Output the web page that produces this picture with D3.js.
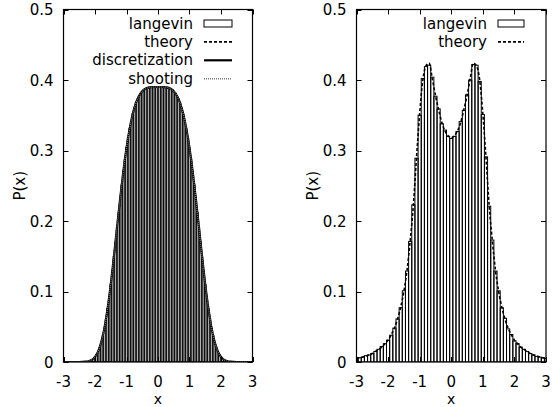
<!DOCTYPE html>
<html><head><meta charset="utf-8">
<script src="https://cdn.jsdelivr.net/npm/d3@7"></script>
<style>body{margin:0;background:#fff}svg{display:block}text{font-family:"DejaVu Sans",sans-serif;font-size:15px;fill:#000}</style>
</head><body><svg id="c" width="552" height="407"></svg>
<script>
// ---------- data ----------
const xTickLabels = ["-3","-2","-1","0","1","2","3"];
const xTickValues = [-3,-2,-1,0,1,2,3];
const yTickLabels = ["0","0.1","0.2","0.3","0.4","0.5"];
const yTickValues = [0,0.1,0.2,0.3,0.4,0.5];

// left panel: langevin histogram (bin width 0.05)
const leftBinWidth = 0.05;
const leftBinCenters = [-2.5,-2.45,-2.4,-2.35,-2.3,-2.25,-2.2,-2.15,-2.1,-2.05,-2,-1.95,-1.9,-1.85,-1.8,-1.75,-1.7,-1.65,-1.6,-1.55,-1.5,-1.45,-1.4,-1.35,-1.3,-1.25,-1.2,-1.15,-1.1,-1.05,-1,-0.95,-0.9,-0.85,-0.8,-0.75,-0.7,-0.65,-0.6,-0.55,-0.5,-0.45,-0.4,-0.35,-0.3,-0.25,-0.2,-0.15,-0.1,-0.05,0,0.05,0.1,0.15,0.2,0.25,0.3,0.35,0.4,0.45,0.5,0.55,0.6,0.65,0.7,0.75,0.8,0.85,0.9,0.95,1,1.05,1.1,1.15,1.2,1.25,1.3,1.35,1.4,1.45,1.5,1.55,1.6,1.65,1.7,1.75,1.8,1.85,1.9,1.95,2,2.05,2.1,2.15,2.2,2.25,2.3,2.35,2.4,2.45,2.5];
const leftLangevin = [0,0.0001,0.0001,0.0002,0.0004,0.0007,0.0011,0.0019,0.0031,0.0046,0.0072,0.0104,0.0152,0.0208,0.0285,0.0372,0.0486,0.0610,0.0761,0.0918,0.1104,0.1288,0.1495,0.1697,0.1914,0.2115,0.2327,0.2514,0.2709,0.2874,0.3041,0.3177,0.3312,0.3420,0.3524,0.3598,0.3677,0.3727,0.3779,0.3809,0.3843,0.3857,0.3878,0.3882,0.3895,0.3893,0.3901,0.3897,0.3904,0.3898,0.3906,0.3895,0.3903,0.3902,0.3894,0.3899,0.3889,0.3887,0.3872,0.3863,0.3837,0.3815,0.3773,0.3733,0.3669,0.3606,0.3516,0.3426,0.3305,0.3184,0.3033,0.2881,0.2701,0.2522,0.2319,0.2122,0.1906,0.1703,0.1489,0.1294,0.1097,0.0924,0.0755,0.0614,0.0481,0.0376,0.0281,0.0211,0.0149,0.0106,0.0070,0.0048,0.0030,0.0018,0.0011,0.0006,0.0003,0.0002,0.0001,0.0001,0];

// left panel curves (grid step 0.1)
const leftCurveX = [-3,-2.9,-2.8,-2.7,-2.6,-2.5,-2.4,-2.3,-2.2,-2.1,-2,-1.9,-1.8,-1.7,-1.6,-1.5,-1.4,-1.3,-1.2,-1.1,-1,-0.9,-0.8,-0.7,-0.6,-0.5,-0.4,-0.3,-0.2,-0.1,0,0.1,0.2,0.3,0.4,0.5,0.6,0.7,0.8,0.9,1,1.1,1.2,1.3,1.4,1.5,1.6,1.7,1.8,1.9,2,2.1,2.2,2.3,2.4,2.5,2.6,2.7,2.8,2.9,3];
const leftTheory = [0,0,0,0,0,0,0.0001,0.0004,0.0011,0.0030,0.0071,0.0150,0.0283,0.0483,0.0758,0.1100,0.1492,0.1910,0.2323,0.2705,0.3037,0.3309,0.3520,0.3673,0.3776,0.3840,0.3875,0.3892,0.3898,0.3900,0.3900,0.3900,0.3898,0.3892,0.3875,0.3840,0.3776,0.3673,0.3520,0.3309,0.3037,0.2705,0.2323,0.1910,0.1492,0.1100,0.0758,0.0483,0.0283,0.0150,0.0071,0.0030,0.0011,0.0004,0.0001,0,0,0,0,0,0];
const leftDiscretization = [0,0,0,0,0,0,0.0001,0.0004,0.0011,0.0030,0.0072,0.0151,0.0284,0.0484,0.0759,0.1101,0.1493,0.1911,0.2324,0.2706,0.3038,0.3310,0.3521,0.3674,0.3777,0.3841,0.3876,0.3893,0.3899,0.3901,0.3901,0.3901,0.3899,0.3893,0.3876,0.3841,0.3777,0.3674,0.3521,0.3310,0.3038,0.2706,0.2324,0.1911,0.1493,0.1101,0.0759,0.0484,0.0284,0.0151,0.0072,0.0030,0.0011,0.0004,0.0001,0,0,0,0,0,0];
const leftShooting = [0,0,0,0,0,0,0.0001,0.0004,0.0011,0.0030,0.0071,0.0150,0.0283,0.0483,0.0758,0.1100,0.1492,0.1910,0.2323,0.2705,0.3037,0.3309,0.3520,0.3673,0.3776,0.3840,0.3875,0.3892,0.3898,0.3900,0.3900,0.3900,0.3898,0.3892,0.3875,0.3840,0.3776,0.3673,0.3520,0.3309,0.3037,0.2705,0.2323,0.1910,0.1492,0.1100,0.0758,0.0483,0.0283,0.0150,0.0071,0.0030,0.0011,0.0004,0.0001,0,0,0,0,0,0];

// right panel (bin width 0.1)
const rightBinWidth = 0.1;
const rightX = [-3,-2.9,-2.8,-2.7,-2.6,-2.5,-2.4,-2.3,-2.2,-2.1,-2,-1.9,-1.8,-1.7,-1.6,-1.5,-1.4,-1.3,-1.2,-1.1,-1,-0.9,-0.8,-0.7,-0.6,-0.5,-0.4,-0.3,-0.2,-0.1,0,0.1,0.2,0.3,0.4,0.5,0.6,0.7,0.8,0.9,1,1.1,1.2,1.3,1.4,1.5,1.6,1.7,1.8,1.9,2,2.1,2.2,2.3,2.4,2.5,2.6,2.7,2.8,2.9,3];
const rightTheory = [0.005,0.006,0.007,0.0085,0.010,0.012,0.015,0.018,0.021,0.026,0.031,0.039,0.048,0.061,0.078,0.100,0.130,0.172,0.222,0.290,0.352,0.400,0.420,0.424,0.402,0.378,0.358,0.340,0.328,0.321,0.318,0.321,0.328,0.340,0.358,0.378,0.402,0.424,0.420,0.400,0.352,0.290,0.222,0.172,0.130,0.100,0.078,0.061,0.048,0.039,0.031,0.026,0.021,0.018,0.015,0.012,0.010,0.0085,0.007,0.006,0.005];
const rightLangevin = [0.005,0.006,0.007,0.009,0.010,0.012,0.015,0.018,0.022,0.026,0.031,0.038,0.048,0.061,0.077,0.101,0.129,0.171,0.223,0.289,0.350,0.402,0.419,0.421,0.404,0.377,0.359,0.338,0.329,0.320,0.317,0.320,0.327,0.341,0.357,0.379,0.400,0.422,0.421,0.398,0.351,0.291,0.221,0.173,0.129,0.101,0.077,0.062,0.047,0.039,0.030,0.026,0.021,0.018,0.015,0.012,0.010,0.008,0.007,0.006,0.005];

// ---------- drawing ----------
const svg = d3.select("#c");
const yTop = 9.5, yBot = 362;

function panel(x0, x1, id){
  const g = svg.append("g");
  const x = d3.scaleLinear().domain([-3,3]).range([x0,x1]);
  const y = d3.scaleLinear().domain([0,0.5]).range([yBot,yTop]);
  g.append("clipPath").attr("id",id).append("rect")
    .attr("x",x0).attr("y",yTop).attr("width",x1-x0).attr("height",yBot-yTop);
  const plot = g.append("g").attr("clip-path",`url(#${id})`);
  const tl = 5;
  const ax = g.append("g").attr("stroke","#000").attr("stroke-width",1);
  xTickValues.forEach(v=>{
    const px = Math.round(x(v))+0.5;
    ax.append("line").attr("x1",px).attr("x2",px).attr("y1",yBot).attr("y2",yBot-tl);
    ax.append("line").attr("x1",px).attr("x2",px).attr("y1",yTop).attr("y2",yTop+tl);
  });
  yTickValues.forEach(v=>{
    const py = Math.round(y(v))+0.5;
    ax.append("line").attr("x1",x0).attr("x2",x0+tl).attr("y1",py).attr("y2",py);
    ax.append("line").attr("x1",x1).attr("x2",x1-tl).attr("y1",py).attr("y2",py);
  });
  g.selectAll(".xl").data(xTickValues).enter().append("text")
    .attr("x",d=>x(d)).attr("y",386.5).attr("text-anchor","middle")
    .text((d,i)=>xTickLabels[i]);
  g.selectAll(".yl").data(yTickValues).enter().append("text")
    .attr("x",x0-10).attr("y",d=>y(d)+5.5).attr("text-anchor","end")
    .text((d,i)=>yTickLabels[i]);
  g.append("text").attr("x",(x0+x1)/2).attr("y",404).attr("text-anchor","middle")
    .style("font-size","14px").text("x");
  g.append("text").attr("transform",`translate(${x0-39},${(yTop+yBot)/2}) rotate(-90)`)
    .attr("text-anchor","middle").text("P(x)");
  return {g, plot, x, y, x0, x1};
}

function hist(p, centers, vals, w, sw){
  p.plot.append("g").selectAll("rect").data(centers).enter().append("rect")
    .attr("x",d=>p.x(d-w/2)).attr("width",d=>p.x(d+w/2)-p.x(d-w/2))
    .attr("y",(d,i)=>p.y(vals[i])).attr("height",(d,i)=>p.y(0)-p.y(vals[i]))
    .attr("fill","none").attr("stroke","#000").attr("stroke-width",sw);
}
function curve(p, xs, ys, attrs){
  const line = d3.line().x((d,i)=>p.x(xs[i])).y(d=>p.y(d)).curve(d3.curveMonotoneX);
  const path = p.plot.append("path").datum(ys).attr("d",line).attr("fill","none");
  Object.entries(attrs).forEach(([k,v])=>path.attr(k,v));
}
function frame(p){
  p.g.append("rect").attr("x",p.x0).attr("y",yTop).attr("width",p.x1-p.x0).attr("height",yBot-yTop)
    .attr("fill","none").attr("stroke","#000").attr("stroke-width",1.2);
}
function legend(p, textX, sx0, sx1, entries){
  entries.forEach((e,i)=>{
    const cy = 23.5 + i*18.4;
    p.g.append("text").attr("x",textX).attr("y",cy+5).attr("text-anchor","end").text(e.label);
    if(e.type==="box"){
      p.g.append("rect").attr("x",sx0).attr("y",cy-3.5).attr("width",sx1-sx0).attr("height",7)
        .attr("fill","#fff").attr("stroke","#000").attr("stroke-width",1);
    } else {
      const l = p.g.append("line").attr("x1",sx0).attr("x2",sx1).attr("y1",cy).attr("y2",cy).attr("fill","none");
      Object.entries(e.style).forEach(([k,v])=>l.attr(k,v));
    }
  });
}

const theoryStyle = {"stroke":"#000","stroke-width":1.6,"stroke-dasharray":"3,2"};
const discStyle = {"stroke":"#000","stroke-width":2.2};
const shootStyle = {"stroke":"#777","stroke-width":1.4,"stroke-dasharray":"1,1"};

const L = panel(63.5, 252.5, "clipL");
hist(L, leftBinCenters, leftLangevin, leftBinWidth, 0.75);
curve(L, leftCurveX, leftDiscretization, discStyle);
curve(L, leftCurveX, leftTheory, theoryStyle);
curve(L, leftCurveX, leftShooting, shootStyle);
frame(L);
legend(L, 193, 204, 232, [
  {label:"langevin", type:"box"},
  {label:"theory", style:theoryStyle},
  {label:"discretization", style:discStyle},
  {label:"shooting", style:shootStyle}
]);

const R = panel(356.5, 546, "clipR");
hist(R, rightX, rightLangevin, rightBinWidth, 1);
curve(R, rightX, rightTheory, theoryStyle);
frame(R);
legend(R, 487, 498, 524, [
  {label:"langevin", type:"box"},
  {label:"theory", style:theoryStyle}
]);
</script></body></html>
